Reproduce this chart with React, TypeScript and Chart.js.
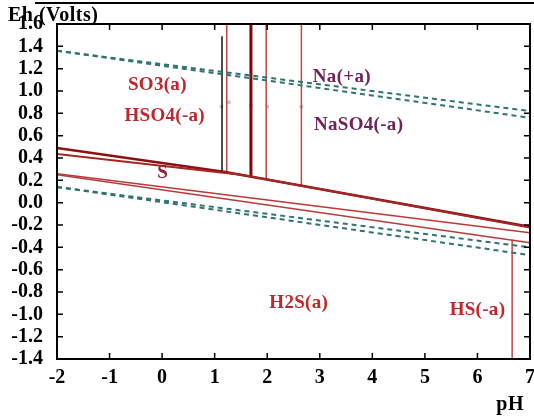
import React, { useEffect, useRef } from 'react';
import { Chart, registerables } from 'chart.js';

Chart.register(...registerables);

// ---- axis ranges & ticks ----
const PH_MIN = -2;
const PH_MAX = 7;
const EH_MIN = -1.4;
const EH_MAX = 1.6;
const xTickValues = [-2, -1, 0, 1, 2, 3, 4, 5, 6, 7];
const yTickValues = [-1.4, -1.2, -1.0, -0.8, -0.6, -0.4, -0.2, 0.0, 0.2, 0.4, 0.6, 0.8, 1.0, 1.2, 1.4, 1.6];

// ---- water stability limits (dashed) ----
const waterUpperA = [{ x: -2, y: 1.36 }, { x: 7, y: 0.82 }];
const waterUpperB = [{ x: -2, y: 1.36 }, { x: 7, y: 0.76 }];
const waterLowerA = [{ x: -2, y: 0.14 }, { x: 7, y: -0.40 }];
const waterLowerB = [{ x: -2, y: 0.14 }, { x: 7, y: -0.47 }];

// ---- sloped boundaries (solid red) ----
const sulfateSulfurA = [{ x: -2, y: 0.49 }, { x: 1.2, y: 0.275 }, { x: 7, y: -0.215 }];
const sulfateSulfurB = [{ x: -2, y: 0.435 }, { x: 1.5, y: 0.25 }, { x: 7, y: -0.222 }];
const sulfurH2SA = [{ x: -2, y: 0.26 }, { x: 7, y: -0.27 }];
const sulfurH2SB = [{ x: -2, y: 0.25 }, { x: 7, y: -0.36 }];

// ---- vertical boundaries ----
const boundaryBlack = [{ x: 1.14, y: 1.49 }, { x: 1.14, y: 0.275 }];
const boundaryV1 = [{ x: 1.23, y: 1.6 }, { x: 1.23, y: 0.27 }];
const boundaryV2 = [{ x: 1.69, y: 1.6 }, { x: 1.69, y: 0.233 }];
const boundaryV3 = [{ x: 1.98, y: 1.6 }, { x: 1.98, y: 0.21 }];
const boundaryV4 = [{ x: 2.65, y: 1.6 }, { x: 2.65, y: 0.155 }];
const boundaryHS = [{ x: 6.66, y: -0.33 }, { x: 6.66, y: -1.4 }];

// ---- faint label markers ----
const markerPoints = [{ x: 1.13, y: 0.86 }, { x: 1.27, y: 0.9 }, { x: 1.69, y: 0.87 }, { x: 2.0, y: 0.86 }, { x: 2.65, y: 0.86 }];

// ---- region labels ----
const regionNames = ['SO3(a)', 'HSO4(-a)', 'Na(+a)', 'NaSO4(-a)', 'S', 'H2S(a)', 'HS(-a)'];
const regionPH = [-0.09, 0.05, 3.42, 3.74, 0.01, 2.6, 6.0];
const regionEh = [1.05, 0.772, 1.125, 0.696, 0.265, -0.9, -0.96];
const regionColors = ['#c0272d', '#c0272d', '#70245a', '#70245a', '#8b2232', '#c0272d', '#c0272d'];

const SERIF = '"Liberation Serif", "Times New Roman", serif';

const line = (data: any[], color: string, width: number, dash: number[] = []) => ({
  type: 'line' as const,
  data,
  borderColor: color,
  borderWidth: width,
  borderDash: dash,
  pointRadius: 0,
  fill: false,
  tension: 0,
  showLine: true,
});

const framePlugin = {
  id: 'frameAndLabels',
  afterDatasetsDraw(chart: any) {
    const { ctx, chartArea: a, scales } = chart;
    const xs = scales.x;
    const ys = scales.y;
    ctx.save();
    // region labels
    ctx.textAlign = 'center';
    ctx.textBaseline = 'middle';
    ctx.font = `bold 19px ${SERIF}`;
    (ctx as any).letterSpacing = '0.3px';
    regionNames.forEach((n, i) => {
      ctx.fillStyle = regionColors[i];
      ctx.fillText(n, xs.getPixelForValue(regionPH[i]), ys.getPixelForValue(regionEh[i]));
    });
    (ctx as any).letterSpacing = '0px';
    // frame
    ctx.strokeStyle = '#000';
    ctx.lineWidth = 2;
    ctx.strokeRect(a.left, a.top, a.right - a.left, a.bottom - a.top);
    // inward ticks
    ctx.lineWidth = 1.5;
    ctx.beginPath();
    xTickValues.forEach((v) => {
      const px = xs.getPixelForValue(v);
      ctx.moveTo(px, a.bottom);
      ctx.lineTo(px, a.bottom - 6);
      ctx.moveTo(px, a.top);
      ctx.lineTo(px, a.top + 6);
    });
    yTickValues.forEach((v) => {
      const py = ys.getPixelForValue(v);
      ctx.moveTo(a.left, py);
      ctx.lineTo(a.left + 6, py);
      ctx.moveTo(a.right, py);
      ctx.lineTo(a.right - 6, py);
    });
    ctx.stroke();
    // axis titles
    ctx.fillStyle = '#000';
    ctx.font = `bold 20px ${SERIF}`;
    ctx.textAlign = 'left';
    ctx.textBaseline = 'middle';
    (ctx as any).letterSpacing = '0.5px';
    ctx.fillText('Eh (Volts)', 8, 16);
    ctx.textAlign = 'right';
    ctx.fillText('pH', a.right - 6, 405);
    ctx.restore();
  },
};

export default function App() {
  const canvasRef = useRef<HTMLCanvasElement | null>(null);

  useEffect(() => {
    document.body.style.margin = '0';
    const canvas = canvasRef.current;
    if (!canvas) return;
    const chart = new Chart(canvas, {
      type: 'line',
      data: {
        datasets: [
          line(waterUpperA, '#2f7373', 2, [5, 4]),
          line(waterUpperB, '#2f7373', 2, [5, 4]),
          line(waterLowerA, '#2f7373', 2, [5, 4]),
          line(waterLowerB, '#2f7373', 2, [5, 4]),
          line(sulfurH2SA, '#b83a3a', 1.5),
          line(sulfurH2SB, '#b83a3a', 1.5),
          line(sulfateSulfurB, '#a52626', 2),
          line(sulfateSulfurA, '#8b1010', 2.5),
          line(boundaryBlack, '#111111', 1.5),
          line(boundaryV1, '#c04848', 1.5),
          line(boundaryV2, '#7a0a0a', 3),
          line(boundaryV3, '#c04848', 1.5),
          line(boundaryV4, '#c04848', 1.5),
          line(boundaryHS, '#c04848', 1.5),
          {
            type: 'scatter' as const,
            data: markerPoints,
            pointStyle: 'rect',
            pointRadius: 2.5,
            backgroundColor: 'rgba(170,150,150,0.6)',
            borderWidth: 0,
            showLine: false,
          },
        ] as any,
      },
      options: {
        responsive: false,
        animation: false,
        parsing: false as any,
        normalized: true,
        layout: { padding: { top: 24, right: 3, left: 0, bottom: 0 } },
        plugins: {
          legend: { display: false },
          tooltip: { enabled: false },
          title: { display: false },
        },
        scales: {
          x: {
            type: 'linear',
            min: PH_MIN,
            max: PH_MAX,
            grid: { display: false, drawTicks: false },
            border: { display: false },
            afterBuildTicks: (s: any) => {
              s.ticks = xTickValues.map((v) => ({ value: v }));
            },
            afterFit: (s: any) => {
              s.height = 58;
              s.paddingLeft = 0;
              s.paddingRight = 0;
            },
            ticks: {
              autoSkip: false,
              maxRotation: 0,
              padding: 7,
              color: '#000',
              font: { family: SERIF, size: 20, weight: 'bold' },
              callback: (v: any) => String(v),
            },
          },
          y: {
            type: 'linear',
            min: EH_MIN,
            max: EH_MAX,
            grid: { display: false, drawTicks: false },
            border: { display: false },
            afterBuildTicks: (s: any) => {
              s.ticks = yTickValues.map((v) => ({ value: v }));
            },
            afterFit: (s: any) => {
              s.width = 57;
              s.paddingTop = 0;
              s.paddingBottom = 0;
            },
            ticks: {
              autoSkip: false,
              padding: 14,
              color: '#000',
              font: { family: SERIF, size: 20, weight: 'bold' },
              callback: (v: any) => Number(v).toFixed(1),
            },
          },
        },
      } as any,
      plugins: [framePlugin],
    });
    return () => chart.destroy();
  }, []);

  return (
    <div style={{ position: 'relative', width: 534, height: 417, background: '#fff', overflow: 'hidden' }}>
      <div style={{ position: 'absolute', top: 2, left: 35, width: 499, height: 0, borderTop: '2px solid #000' }} />
      <canvas ref={canvasRef} width={534} height={417} style={{ display: 'block' }} />
    </div>
  );
}
